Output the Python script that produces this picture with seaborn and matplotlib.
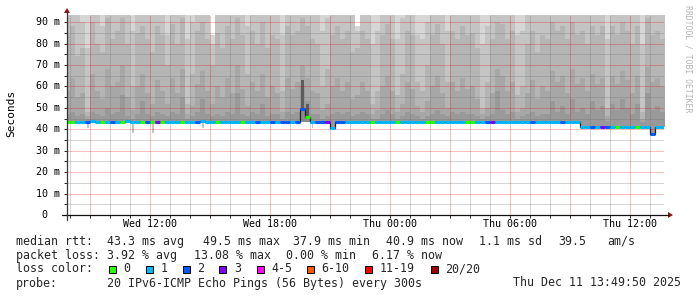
import numpy as np
import pandas as pd
import matplotlib
matplotlib.use("Agg")
import matplotlib.pyplot as plt
from matplotlib.patches import Rectangle, Polygon
from matplotlib.lines import Line2D
from matplotlib.ticker import MultipleLocator
from matplotlib.transforms import blended_transform_factory
import seaborn as sns

# ------------------------------------------------------------------ data
bin_times = pd.date_range("2025-12-10 07:45", periods=120, freq="15min")

median_ms = [
    43.6, 43.6, 43.5, 43.6, 43.6, 43.7, 43.6, 43.6, 43.5, 43.6,
    43.6, 43.6, 43.7, 43.6, 43.6, 43.5, 43.6, 43.6, 43.6, 43.6,
    43.6, 43.6, 43.5, 43.6, 43.6, 43.6, 43.6, 43.7, 43.6, 43.6,
    43.6, 43.6, 43.6, 43.5, 43.6, 43.6, 43.6, 43.6, 43.6, 43.6,
    43.6, 43.6, 43.6, 43.6, 43.6, 43.6, 43.6, 49.5, 45.9, 43.6,
    43.6, 43.6, 43.6, 40.4, 43.6, 43.6, 43.6, 43.6, 43.6, 43.6,
    43.6, 43.6, 43.6, 43.6, 43.6, 43.6, 43.6, 43.6, 43.6, 43.6,
    43.6, 43.6, 43.6, 43.6, 43.6, 43.6, 43.6, 43.6, 43.6, 43.6,
    43.6, 43.6, 43.6, 43.6, 43.6, 43.6, 43.6, 43.6, 43.6, 43.6,
    43.6, 43.6, 43.6, 43.6, 43.6, 43.6, 43.6, 43.6, 43.6, 43.6,
    43.6, 43.6, 43.6, 40.9, 40.9, 40.9, 40.9, 40.9, 40.9, 40.9,
    40.9, 40.9, 40.9, 40.9, 40.9, 40.9, 40.9, 37.9, 40.9, 40.9,
]

loss_class = [
    0, 0, 1, 1, 2, 1, 1, 0, 1, 2,
    1, 0, 1, 1, 1, 0, 2, 0, 3, 0,
    1, 1, 1, 0, 1, 1, 2, 1, 1, 1,
    0, 1, 1, 1, 1, 0, 1, 1, 2, 1,
    1, 2, 1, 2, 2, 1, 2, 2, 0, 1,
    2, 2, 3, 1, 2, 2, 1, 1, 1, 1,
    1, 0, 1, 1, 1, 1, 0, 1, 1, 1,
    1, 1, 0, 0, 1, 1, 1, 1, 1, 1,
    0, 0, 1, 1, 2, 3, 1, 1, 1, 1,
    1, 1, 1, 2, 1, 1, 1, 1, 1, 2,
    1, 1, 1, 1, 1, 2, 1, 3, 2, 1,
    0, 1, 1, 1, 0, 1, 1, 2, 1, 1,
]

ping_p16 = [
    47, 48, 46, 47, 45, 48, 47, 46, 50, 47,
    48, 56, 46, 45, 47, 53, 47, 46, 48, 47,
    46, 48, 47, 55, 45, 46, 48, 54, 47, 46,
    47, 46, 48, 47, 57, 47, 46, 48, 47, 52,
    46, 47, 47, 45, 48, 47, 48, 60, 53, 47,
    47, 45, 46, 47, 48, 47, 48, 46, 47, 48,
    47, 45, 45, 47, 49, 47, 45, 46, 48, 47,
    46, 45, 46, 47, 49, 47, 46, 48, 47, 48,
    47, 47, 46, 45, 46, 47, 58, 49, 47, 48,
    45, 46, 47, 48, 46, 47, 47, 53, 48, 51,
    47, 54, 48, 50, 47, 53, 49, 51, 44, 52,
    49, 54, 50, 47, 52, 43.5, 57, 49, 51, 48,
]
ping_p17 = [
    58, 64, 55, 57, 46, 66, 58, 54, 68, 60,
    62, 70, 55, 49, 60, 66, 57, 52, 63, 58,
    52, 64, 57, 68, 47, 51, 61, 67, 58, 52,
    60, 55, 64, 57, 70, 59, 51, 62, 58, 66,
    55, 60, 57, 48, 64, 59, 62, 70, 64, 58,
    57, 49, 52, 60, 64, 58, 62, 54, 56, 62,
    58, 47, 49, 60, 65, 58, 48, 52, 62, 59,
    51, 48, 53, 60, 65, 57, 50, 62, 58, 64,
    59, 60, 54, 47, 50, 57, 68, 65, 58, 62,
    48, 50, 57, 63, 54, 60, 58, 67, 62, 65,
    57, 68, 61, 64, 58, 66, 61, 64, 46, 65,
    61, 67, 63, 57, 65, 45, 69, 62, 64, 60,
]
ping_p18 = [
    84, 88, 74, 78, 48, 90, 80, 76, 92, 82,
    86, 92, 80, 60, 85, 88, 82, 76, 88, 84,
    70, 89, 80, 92, 52, 66, 86, 90, 82, 70,
    85, 78, 88, 82, 92, 84, 66, 86, 80, 90,
    78, 84, 82, 58, 88, 84, 86, 92, 88, 82,
    80, 60, 68, 84, 88, 82, 86, 76, 78, 86,
    82, 52, 58, 84, 89, 82, 56, 66, 86, 84,
    62, 58, 70, 84, 89, 80, 62, 86, 82, 88,
    84, 85, 78, 50, 62, 82, 90, 89, 82, 86,
    56, 60, 80, 86, 76, 84, 82, 90, 86, 88,
    82, 90, 84, 86, 80, 88, 84, 88, 50, 88,
    84, 90, 86, 80, 88, 48, 92, 84, 86, 82,
]
ping_p19 = [
    102, 106, 94, 90, 78, 108, 96, 88, 110, 96,
    104, 110, 98, 86, 104, 106, 100, 96, 108, 102,
    84, 106, 98, 108, 82, 90, 104, 106, 98, 80,
    102, 96, 108, 100, 110, 102, 88, 104, 98, 108,
    96, 102, 100, 84, 106, 102, 104, 106, 102, 100,
    98, 86, 92, 102, 106, 100, 104, 94, 86, 104,
    100, 80, 86, 102, 108, 100, 82, 92, 104, 102,
    84, 82, 90, 102, 106, 98, 86, 104, 100, 106,
    102, 102, 96, 80, 88, 100, 108, 106, 100, 104,
    84, 86, 98, 104, 94, 102, 100, 106, 104, 106,
    100, 108, 102, 104, 98, 106, 102, 106, 82, 106,
    102, 108, 104, 98, 106, 80, 110, 102, 104, 100,
]
ping_ceiling_ms = 100.0            # slowest ping, above the axis top
notch_bins = [29, 58]              # columns where even the slowest ping stays below the top
notch_max_ms = [84, 88]
dark_bins = [47, 48]               # dense cluster of pings around the spike
dark_top_ms = [63, 52]
spike_base_ms = [43.5, 43.5]       # fastest pings under the spike
dip_bins = [4, 13, 17, 27, 49]     # fastest ping below the median
dip_min_ms = [40.5, 38.4, 38.4, 40.5, 40.5]

loss_labels = ["0", "1", "2", "3", "4-5", "6-10", "11-19", "20/20"]
loss_colors = ["#26ff00", "#00b8ff", "#0059ff", "#7e00ff",
               "#ff00ff", "#ff5500", "#ff0000", "#a10000"]

x_tick_hours = [12, 18, 24, 30, 36]
x_tick_labels = ["Wed 12:00", "Wed 18:00", "Thu 00:00", "Thu 06:00", "Thu 12:00"]
y_tick_values = [0, 10, 20, 30, 40, 50, 60, 70, 80, 90]
y_tick_labels = ["0", "10 m", "20 m", "30 m", "40 m", "50 m", "60 m", "70 m", "80 m", "90 m"]

rtt_stats = ["43.3 ms avg", "49.5 ms max", "37.9 ms min", "40.9 ms now", "1.1 ms sd", "39.5", "am/s"]
loss_stats = ["3.92 % avg", "13.08 % max", "0.00 % min", "6.17 % now"]
probe_text = "20 IPv6-ICMP Echo Pings (56 Bytes) every 300s"
stamp_text = "Thu Dec 11 13:49:50 2025"

# ------------------------------------------------------------------ figure
W, H = 697, 297
sns.set_theme(style="white")
plt.rcParams["font.family"] = ["DejaVu Sans Mono", "DejaVu Sans"]
plt.rcParams["lines.scale_dashes"] = False

fig = plt.figure(figsize=(W / 100, H / 100), dpi=100, facecolor="white")
fx = lambda px: px / W
fy = lambda py: 1 - py / H

ax = fig.add_axes([fx(67), fy(215), (664 - 67) / W, (215 - 15) / H])
ax.set_facecolor("white")
for s in ax.spines.values():
    s.set_visible(False)

hours = ((bin_times - pd.Timestamp("2025-12-10")) / pd.Timedelta(hours=1)).to_numpy()
bw = 0.25
edges = np.append(hours, hours[-1] + bw)
med = np.asarray(median_ms, float)
step = lambda a: np.append(np.asarray(a, float), a[-1])

top = np.full(len(hours), ping_ceiling_ms)
top[notch_bins] = notch_max_ms

layers = [(top, "#d6d6d6"), (ping_p19, "#c4c4c4"), (ping_p18, "#b5b5b5"),
          (ping_p17, "#a7a7a7"), (ping_p16, "#999999")]
for arr, col in layers:
    ax.fill_between(edges, step(med), step(arr), step="post", color=col,
                    lw=0, antialiased=False, zorder=1)

ax.bar(hours[dark_bins], med[dark_bins] - np.array(spike_base_ms), bottom=spike_base_ms,
       width=bw, align="edge", color="#8c8c8c", lw=0, zorder=1.1)
dark_x = hours[dark_bins] + bw / 2
ax.bar(dark_x, np.array(dark_top_ms) - med[dark_bins], bottom=med[dark_bins],
       width=0.12, color="#5c5c5c", lw=0, zorder=1.2)
dip_x = hours[dip_bins] + bw / 2
ax.bar(dip_x, med[dip_bins] - np.array(dip_min_ms), bottom=dip_min_ms,
       width=0.1, color="#c4c4c4", lw=0, zorder=1.2)

# median line: thin dark step line plus loss-coloured pieces
sns.lineplot(x=edges, y=step(med), drawstyle="steps-post", color="#202020",
             lw=0.9, ax=ax, zorder=3, estimator=None, sort=False)
ax.hlines(med, hours, hours + bw, colors=[loss_colors[c] for c in loss_class],
          lw=2.2, zorder=4, capstyle="butt")

ax.set_xlim(7.85, 37.7)
ax.set_ylim(0, 93.3)
ax.xaxis.set_major_locator(MultipleLocator(3))
ax.xaxis.set_minor_locator(MultipleLocator(1))
ax.yaxis.set_major_locator(MultipleLocator(10))
ax.yaxis.set_minor_locator(MultipleLocator(5))
ax.grid(False)

# dotted grid, 1 px on / 1 px off, drawn over the smoke
px_pt = 0.72
maj_col = (0.85, 0.0, 0.0, 0.25)
min_col = (0.45, 0.45, 0.45, 0.30)
xmaj = [v for v in ax.xaxis.get_majorticklocs() if 7.85 < v < 37.7]
xmin = [v for v in ax.xaxis.get_minorticklocs() if 7.85 < v < 37.7 and v not in xmaj]
ymaj = [v for v in ax.yaxis.get_majorticklocs() if 0 < v < 93.3]
ymin = [v for v in ax.yaxis.get_minorticklocs() if 0 < v < 93.3 and v not in ymaj]
for v in xmin:
    ax.axvline(v, color=min_col, lw=px_pt, dashes=(px_pt, px_pt), antialiased=False, zorder=2.5)
for v in ymin:
    ax.axhline(v, color=min_col, lw=px_pt, dashes=(px_pt, px_pt), antialiased=False, zorder=2.5)
for v in xmaj:
    ax.axvline(v, color=maj_col, lw=px_pt, dashes=(px_pt, px_pt), antialiased=False, zorder=2.6)
for v in ymaj:
    ax.axhline(v, color=maj_col, lw=px_pt, dashes=(px_pt, px_pt), antialiased=False, zorder=2.6)

ax.tick_params(which="both", labelbottom=False, labelleft=False,
               bottom=True, left=True, direction="out", length=2.2,
               width=0.72, color="#303030")
ax.set_xlabel("")
ax.set_ylabel("")

# tick labels
tx = blended_transform_factory(ax.transData, fig.transFigure)
for h, lab in zip(x_tick_hours, x_tick_labels):
    ax.text(h, fy(224), lab, transform=tx, ha="center", va="center",
            fontsize=7.2, color="black", clip_on=False)
ty = blended_transform_factory(fig.transFigure, ax.transData)
for v, lab in zip(y_tick_values, y_tick_labels):
    xr = 60 if " " in lab else 47.3
    ax.text(fx(xr), v, lab, transform=ty, ha="right", va="center",
            fontsize=7.2, color="black", clip_on=False)

# axis lines with arrows
fig.add_artist(Line2D([fx(62), fx(668)], [fy(215), fy(215)], color="#111111", lw=0.9))
fig.add_artist(Line2D([fx(67), fx(67)], [fy(220), fy(12)], color="#333333", lw=0.9))
fig.add_artist(Polygon([[fx(668), fy(212)], [fx(668), fy(218)], [fx(673), fy(215)]],
                       closed=True, color="#8b1010", lw=0))
fig.add_artist(Polygon([[fx(64), fy(13)], [fx(70), fy(13)], [fx(67), fy(8)]],
                       closed=True, color="#8b1010", lw=0))

fig.text(fx(11), fy(113.5), "Seconds", rotation=90, ha="center", va="center",
         fontsize=8.0, color="black")
fig.text(fx(688), fy(59), "RRDTOOL / TOBI OETIKER", rotation=270, ha="center",
         va="center", fontsize=5.9, color="#b4b4b4")

# legend block
LFS = 8.4
fig.text(fx(16), fy(241.3), "median rtt:", fontsize=LFS, va="center")
for xp, s in zip([107.3, 203, 293, 386, 479, 558, 607], rtt_stats):
    fig.text(fx(xp), fy(241.3), s, fontsize=LFS, va="center")
fig.text(fx(16), fy(255.3), "packet loss:", fontsize=LFS, va="center")
for xp, s in zip([107.3, 194, 285.7, 372], loss_stats):
    fig.text(fx(xp), fy(255.3), s, fontsize=LFS, va="center")
fig.text(fx(16), fy(268.8), "loss color:", fontsize=LFS, va="center")
box_x = [108.7, 145.7, 182.7, 219.3, 256.7, 307, 365, 430.7]
for bx, lab, col in zip(box_x, loss_labels, loss_colors):
    fig.add_artist(Rectangle((fx(bx), fy(272.5)), 7 / W, 7 / H, facecolor=col,
                             edgecolor="black", lw=0.72))
    fig.text(fx(bx + 14.6), fy(268.8), lab, fontsize=LFS, va="center")
fig.text(fx(16), fy(283), "probe:", fontsize=LFS, va="center")
fig.text(fx(107.3), fy(283), probe_text, fontsize=LFS, va="center")
fig.text(fx(681), fy(283), stamp_text, fontsize=LFS, va="center", ha="right")

fig.savefig("out.png", dpi=100, facecolor="white")
